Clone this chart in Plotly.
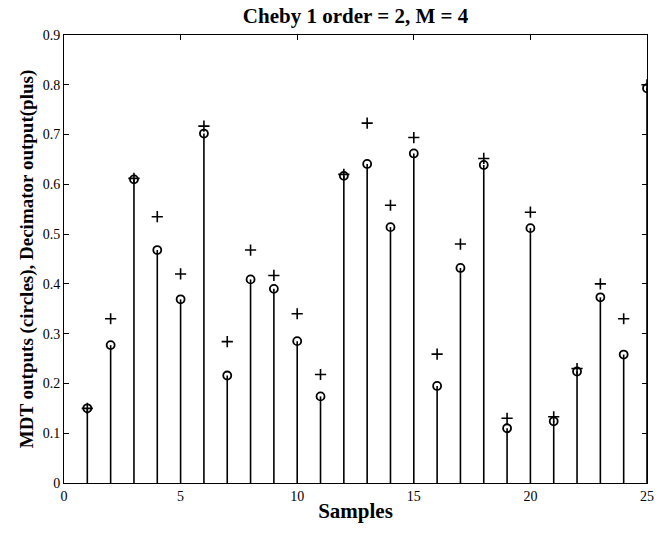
import plotly.graph_objects as go

samples = list(range(1, 26))
mdt_outputs = [0.150, 0.277, 0.610, 0.468, 0.369, 0.702, 0.216, 0.409, 0.390, 0.285,
               0.174, 0.617, 0.641, 0.514, 0.662, 0.195, 0.432, 0.639, 0.110, 0.512,
               0.124, 0.224, 0.373, 0.258, 0.793]
decimator_outputs = [0.150, 0.330, 0.612, 0.535, 0.420, 0.717, 0.284, 0.468, 0.417, 0.340,
                     0.218, 0.620, 0.723, 0.558, 0.694, 0.259, 0.480, 0.652, 0.130, 0.544,
                     0.133, 0.230, 0.400, 0.330, 0.800]
x_ticks = [0, 5, 10, 15, 20, 25]
y_ticks = [0, 0.1, 0.2, 0.3, 0.4, 0.5, 0.6, 0.7, 0.8, 0.9]
y_tick_labels = ["0", "0.1", "0.2", "0.3", "0.4", "0.5", "0.6", "0.7", "0.8", "0.9"]

stem_x, stem_y = [], []
for xv, yv in zip(samples, mdt_outputs):
    stem_x += [xv, xv, None]
    stem_y += [0, yv, None]

fig = go.Figure()
fig.add_trace(go.Scatter(x=stem_x, y=stem_y, mode="lines",
                         line=dict(color="black", width=1.6), hoverinfo="skip", showlegend=False))
fig.add_trace(go.Scatter(x=samples, y=mdt_outputs, mode="markers",
                         marker=dict(symbol="circle-open", size=8, color="black",
                                     line=dict(width=1.8, color="black")), showlegend=False))
fig.add_trace(go.Scatter(x=samples, y=decimator_outputs, mode="markers",
                         marker=dict(symbol="cross-thin", size=8, color="black",
                                     line=dict(width=1.6, color="black")), showlegend=False))

font_family = "Liberation Serif, Times New Roman, serif"
fig.update_layout(
    width=660, height=533,
    margin=dict(l=64, r=6, t=35, b=50),
    paper_bgcolor="white", plot_bgcolor="white",
    font=dict(family=font_family, color="black", size=14),
    title=dict(text="<b>Cheby 1 order = 2, M = 4</b>", xref="paper", x=0.5, xanchor="center",
               yref="container", y=1 - 16 / 533, yanchor="middle",
               font=dict(size=21, family=font_family, color="black")),
)
fig.update_xaxes(range=[0, 25], tickvals=x_ticks, ticks="inside", ticklen=5, tickwidth=1,
                 tickcolor="black", showline=True, linecolor="black", linewidth=1,
                 mirror="ticks", showgrid=False, zeroline=False, ticklabeloverflow="allow",
                 title=dict(text="<b>Samples</b>", font=dict(size=21, color="black"), standoff=0),
                 tickfont=dict(size=14, color="black"))
fig.update_yaxes(range=[0, 0.9], tickvals=y_ticks, ticktext=y_tick_labels, ticks="inside",
                 ticklen=5, tickwidth=1,
                 tickcolor="black", showline=True, linecolor="black", linewidth=1,
                 mirror="ticks", showgrid=False, zeroline=False, ticklabeloverflow="allow",
                 title=dict(text="<b>MDT outputs (circles), Decimator output(plus)</b>",
                            font=dict(size=19, color="black"), standoff=4),
                 tickfont=dict(size=14, color="black"))

fig.write_html("out.html")
